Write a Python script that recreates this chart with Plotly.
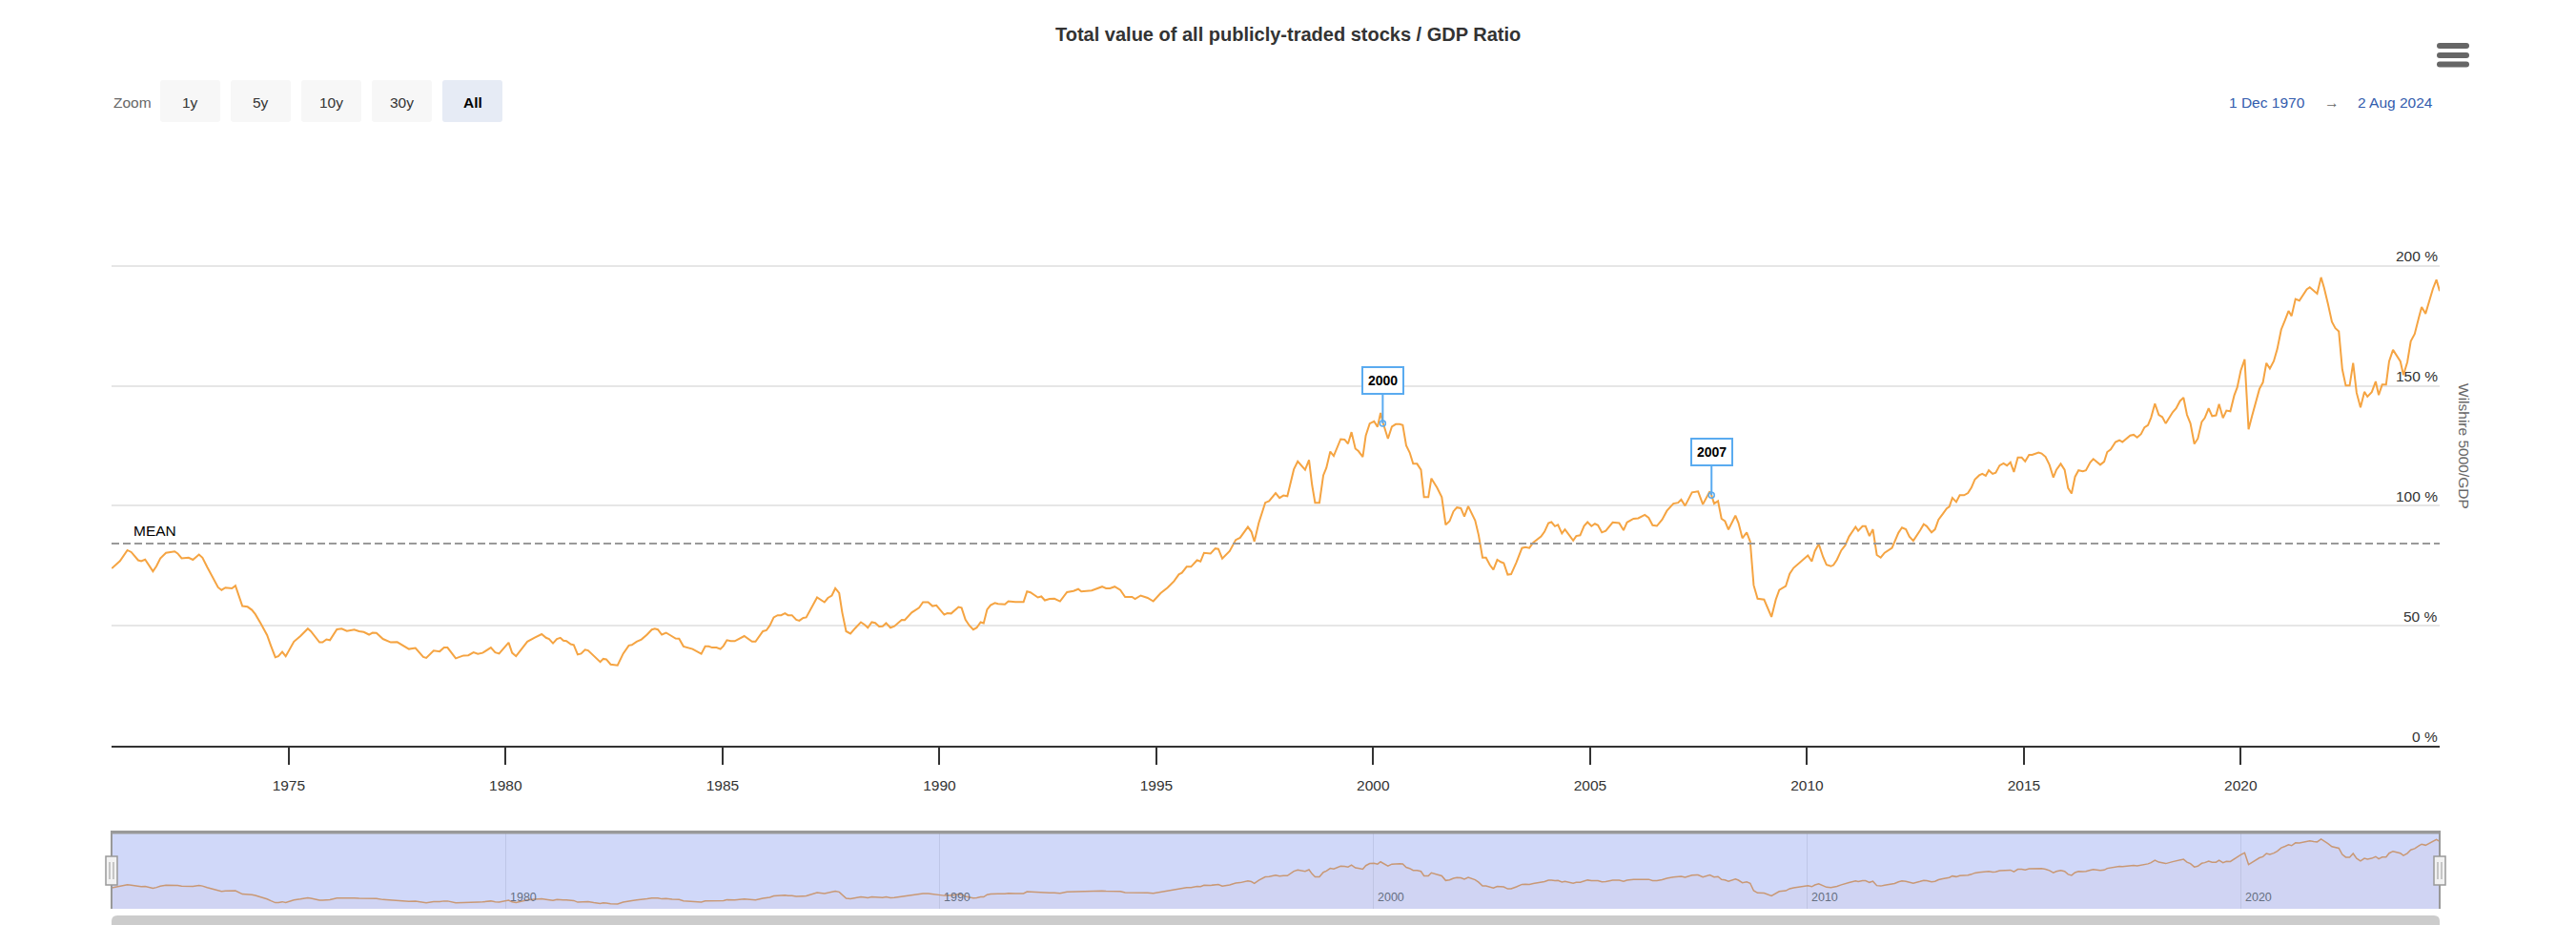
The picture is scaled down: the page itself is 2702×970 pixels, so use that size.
import datetime as dt
import plotly.graph_objects as go

# ---------------- data ----------------
years = [
    1970.92, 1971.11, 1971.28, 1971.37, 1971.53, 1971.60, 1971.69, 1971.87, 1971.95, 1972.04,
    1972.17, 1972.31, 1972.37, 1972.44, 1972.53, 1972.69, 1972.79, 1972.93, 1973.01, 1973.12,
    1973.26, 1973.37, 1973.45, 1973.54, 1973.69, 1973.77, 1973.93, 1974.05, 1974.15, 1974.23,
    1974.36, 1974.50, 1974.59, 1974.69, 1974.76, 1974.85, 1974.93, 1975.01, 1975.12, 1975.27,
    1975.44, 1975.51, 1975.60, 1975.71, 1975.78, 1975.87, 1975.95, 1976.11, 1976.22, 1976.34,
    1976.51, 1976.62, 1976.73, 1976.85, 1976.93, 1977.02, 1977.17, 1977.35, 1977.50, 1977.64,
    1977.77, 1977.92, 1978.10, 1978.17, 1978.34, 1978.48, 1978.58, 1978.66, 1978.85, 1979.03,
    1979.14, 1979.26, 1979.36, 1979.47, 1979.66, 1979.76, 1979.85,
    1980.07, 1980.15, 1980.24, 1980.34, 1980.50, 1980.67, 1980.83, 1980.93, 1981.00, 1981.09,
    1981.18, 1981.26, 1981.33, 1981.40, 1981.50, 1981.57, 1981.66, 1981.74, 1981.83, 1981.90,
    1982.03, 1982.18, 1982.25, 1982.32, 1982.42, 1982.58, 1982.71, 1982.84, 1982.91, 1983.02,
    1983.13, 1983.26, 1983.37, 1983.44, 1983.51, 1983.60, 1983.70, 1983.84, 1983.92, 1984.00,
    1984.10, 1984.31, 1984.51, 1984.60, 1984.68, 1984.76, 1984.86, 1984.95, 1985.02, 1985.10,
    1985.19, 1985.28, 1985.50, 1985.68, 1985.76, 1985.93, 1986.01, 1986.09, 1986.18, 1986.27,
    1986.35, 1986.44, 1986.51, 1986.60, 1986.70, 1986.77, 1986.86, 1986.93, 1987.07, 1987.18,
    1987.35, 1987.43, 1987.52, 1987.60, 1987.69, 1987.76, 1987.85, 1987.95, 1988.06, 1988.19,
    1988.28, 1988.35, 1988.44, 1988.52, 1988.61, 1988.69, 1988.77, 1988.87, 1988.96, 1989.13,
    1989.20, 1989.36, 1989.53, 1989.62, 1989.74, 1989.84, 1989.93,
    1990.11, 1990.18, 1990.27, 1990.44, 1990.51, 1990.60, 1990.69, 1990.78, 1990.86, 1990.95,
    1991.02, 1991.10, 1991.18, 1991.28, 1991.35, 1991.51, 1991.59, 1991.75, 1991.94, 1992.02,
    1992.10, 1992.27, 1992.35, 1992.43, 1992.54, 1992.65, 1992.78, 1992.94, 1993.09, 1993.20,
    1993.27, 1993.51, 1993.75, 1993.84, 1993.93, 1994.04, 1994.17, 1994.28, 1994.44, 1994.51,
    1994.64, 1994.80, 1994.93, 1995.10, 1995.26, 1995.41, 1995.52, 1995.59, 1995.70, 1995.80,
    1995.94, 1996.02, 1996.10, 1996.25, 1996.36, 1996.43, 1996.52, 1996.69, 1996.83, 1996.93,
    1997.11, 1997.19, 1997.26, 1997.36, 1997.51, 1997.60, 1997.75, 1997.84, 1997.93, 1998.02,
    1998.17, 1998.26, 1998.43, 1998.52, 1998.59, 1998.66, 1998.76, 1998.85, 1998.92, 1999.01,
    1999.09, 1999.25, 1999.34, 1999.42, 1999.50, 1999.59, 1999.66, 1999.76, 1999.83, 1999.92,
    2000.02, 2000.10, 2000.17, 2000.23, 2000.34, 2000.43, 2000.52, 2000.61, 2000.68, 2000.76,
    2000.84, 2000.92, 2001.01, 2001.10, 2001.17, 2001.27, 2001.34, 2001.47, 2001.58, 2001.67,
    2001.76, 2001.85, 2001.93, 2002.02, 2002.10, 2002.19, 2002.35, 2002.43, 2002.52, 2002.60,
    2002.69, 2002.77, 2002.86, 2002.94, 2003.01, 2003.10, 2003.18, 2003.30, 2003.43, 2003.51,
    2003.60, 2003.69, 2003.87, 2003.95, 2004.04, 2004.11, 2004.19, 2004.26, 2004.35, 2004.42,
    2004.61, 2004.68, 2004.77, 2004.86, 2004.94, 2005.03, 2005.11, 2005.18, 2005.27, 2005.36,
    2005.52, 2005.67, 2005.77, 2005.85, 2006.00, 2006.11, 2006.26, 2006.35, 2006.44, 2006.54,
    2006.66, 2006.77, 2006.92, 2007.03, 2007.10, 2007.19, 2007.35, 2007.49, 2007.60, 2007.76,
    2007.80, 2007.86, 2007.95, 2008.03, 2008.11, 2008.19, 2008.35, 2008.42, 2008.51, 2008.61,
    2008.69, 2008.77, 2008.86, 2009.01, 2009.18, 2009.28, 2009.36, 2009.51, 2009.60, 2009.69,
    2009.85, 2009.94,
    2010.02, 2010.11, 2010.18, 2010.27, 2010.37, 2010.45, 2010.55, 2010.61, 2010.69, 2010.79,
    2010.88, 2010.97, 2011.12, 2011.18, 2011.28, 2011.35, 2011.44, 2011.52, 2011.61, 2011.70,
    2011.79, 2011.96, 2012.02, 2012.11, 2012.19, 2012.28, 2012.36, 2012.45, 2012.61, 2012.69,
    2012.76, 2012.87, 2012.95, 2013.03, 2013.13, 2013.22, 2013.28, 2013.35, 2013.44, 2013.52,
    2013.62, 2013.71, 2013.79, 2013.87, 2013.97, 2014.04, 2014.12, 2014.19, 2014.28, 2014.35,
    2014.44, 2014.53, 2014.61, 2014.69, 2014.77, 2014.86, 2014.95, 2015.03, 2015.12, 2015.19,
    2015.34, 2015.41, 2015.50, 2015.59, 2015.68, 2015.75, 2015.85, 2015.94, 2016.02, 2016.10,
    2016.18, 2016.26, 2016.36, 2016.43, 2016.53, 2016.60, 2016.76, 2016.85, 2016.92, 2017.00,
    2017.11, 2017.20, 2017.27, 2017.36, 2017.45, 2017.53, 2017.61, 2017.70, 2017.78, 2017.86,
    2017.93, 2018.02, 2018.11, 2018.19, 2018.27, 2018.43, 2018.51, 2018.60, 2018.68, 2018.76,
    2018.84, 2018.93, 2019.01, 2019.10, 2019.17, 2019.26, 2019.34, 2019.43, 2019.50, 2019.59,
    2019.67, 2019.76, 2019.85, 2019.92,
    2020.00, 2020.09, 2020.18, 2020.26, 2020.34, 2020.43, 2020.51, 2020.59, 2020.67, 2020.76,
    2020.84, 2020.93, 2021.02, 2021.10, 2021.17, 2021.26, 2021.35, 2021.43, 2021.52, 2021.59,
    2021.68, 2021.76, 2021.85, 2021.92, 2022.01, 2022.10, 2022.18, 2022.26, 2022.34, 2022.42,
    2022.51, 2022.59, 2022.67, 2022.76, 2022.85, 2022.92, 2023.02, 2023.11, 2023.18, 2023.26,
    2023.35, 2023.42, 2023.51, 2023.59, 2023.68, 2023.75, 2023.84, 2023.92, 2024.01, 2024.10,
    2024.17, 2024.26, 2024.35, 2024.43, 2024.51, 2024.585,
]

ratio = [
    73.9, 77.0, 81.5, 80.7, 77.3, 76.9, 77.6, 72.7, 74.8, 78.1,
    80.4, 80.7, 81.0, 80.1, 78.1, 78.4, 77.5, 79.7, 78.4, 74.4,
    69.6, 66.0, 64.9, 65.9, 65.6, 66.7, 58.2, 57.9, 56.6, 54.8,
    50.8, 46.1, 41.6, 36.9, 37.3, 39.1, 37.3, 39.7, 43.4, 45.7,
    48.8, 47.7, 45.4, 43.1, 43.1, 44.3, 44.0, 48.5, 48.8, 47.8,
    48.4, 47.7, 47.4, 46.3, 47.1, 47.0, 44.5, 43.1, 43.2, 41.8,
    40.3, 40.7, 37.0, 36.6, 39.6, 39.3, 40.9, 40.9, 36.4, 37.6,
    37.7, 38.9, 38.3, 38.7, 40.9, 38.9, 38.4,
    43.0, 38.7, 37.3, 39.7, 43.4, 45.1, 46.5, 45.0, 44.5, 42.7,
    44.5, 45.0, 43.8, 43.6, 42.3, 42.0, 38.0, 38.4, 40.0, 39.7,
    37.3, 34.9, 36.2, 36.0, 33.9, 33.5, 38.4, 41.8, 42.0, 43.4,
    44.3, 46.3, 48.4, 48.8, 48.4, 46.3, 47.1, 45.4, 44.7, 44.6,
    41.4, 40.3, 38.3, 41.4, 41.4, 40.9, 40.9, 40.3, 41.6, 44.0,
    43.6, 43.6, 45.7, 43.4, 43.4, 47.7, 48.1, 50.1, 53.5, 54.4,
    54.4, 55.2, 54.4, 54.4, 52.5, 52.1, 53.3, 53.5, 58.5, 61.8,
    59.8, 61.6, 62.6, 65.6, 63.6, 55.5, 47.7, 46.7, 49.0, 51.5,
    50.4, 49.2, 51.5, 51.2, 49.7, 49.8, 51.1, 49.2, 49.8, 52.5,
    52.4, 55.5, 57.5, 59.8, 59.8, 58.2, 58.5,
    54.6, 55.2, 55.1, 57.8, 57.5, 52.5, 50.1, 48.4, 49.2, 51.5,
    51.1, 56.8, 58.6, 59.5, 59.1, 58.9, 60.2, 59.9, 59.9, 64.3,
    63.9, 61.8, 62.2, 60.6, 61.2, 61.3, 60.2, 64.0, 64.5, 65.3,
    64.3, 64.7, 66.3, 65.6, 65.6, 66.3, 64.9, 62.0, 62.0, 61.2,
    62.6, 61.6, 60.2, 63.6, 65.9, 68.6, 71.4, 72.1, 74.6, 74.6,
    77.3, 76.8, 80.4, 80.1, 82.2, 82.0, 78.0, 81.1, 85.8, 86.7,
    91.2, 89.2, 85.1, 92.8, 101.3, 102.0, 105.3, 103.3, 104.3, 104.0,
    115.2, 118.5, 115.0, 119.1, 108.7, 101.3, 101.3, 112.7, 115.8, 122.6,
    120.8, 127.8, 127.6, 125.9, 130.7, 123.8, 122.8, 120.4, 129.3, 134.3,
    135.2, 132.9, 138.7, 134.3, 128.0, 133.0, 134.0, 134.0, 133.6, 125.1,
    122.2, 117.5, 117.5, 115.0, 103.6, 103.6, 111.4, 107.6, 103.6, 92.1,
    93.6, 97.7, 99.3, 99.0, 95.5, 99.8, 93.9, 87.8, 78.4, 78.4,
    75.3, 73.4, 77.5, 76.6, 76.1, 71.3, 71.5, 76.4, 82.4, 82.8,
    82.4, 84.7, 87.2, 89.2, 92.8, 93.2, 91.5, 92.1, 88.5, 90.2,
    85.5, 87.4, 87.7, 91.6, 93.2, 91.5, 92.5, 91.9, 88.9, 89.6,
    93.1, 92.8, 89.8, 93.1, 94.6, 94.8, 96.2, 95.0, 91.9, 91.6,
    94.2, 97.9, 100.9, 101.3, 102.6, 100.0, 105.6, 106.0, 100.6, 106.0,
    104.4, 100.9, 102.0, 94.6, 93.6, 90.1, 95.9, 92.9, 86.5, 88.9,
    85.1, 66.9, 61.3, 60.9, 53.7, 60.9, 64.9, 66.5, 71.7, 74.1,
    76.6, 78.4,
    79.3, 76.8, 81.1, 84.1, 78.7, 75.4, 74.8, 75.3, 77.5, 81.4,
    83.5, 87.2, 91.2, 89.6, 91.5, 91.5, 87.4, 90.2, 79.5, 78.4,
    80.4, 82.4, 84.7, 88.8, 90.9, 90.2, 87.2, 85.4, 89.8, 92.3,
    91.5, 88.9, 90.2, 94.2, 96.6, 98.9, 99.6, 103.3, 101.6, 104.4,
    104.4, 105.3, 107.6, 111.0, 112.7, 113.3, 112.5, 114.8, 113.3, 113.8,
    116.8, 117.7, 116.8, 118.1, 114.1, 120.1, 120.1, 118.5, 121.2, 121.2,
    122.2, 121.8, 120.4, 117.1, 111.8, 115.0, 117.5, 115.0, 107.4, 105.1,
    112.1, 114.8, 114.4, 114.8, 118.1, 119.5, 117.1, 118.4, 122.4, 123.5,
    126.6, 127.3, 126.6, 127.8, 129.3, 129.6, 128.5, 129.9, 132.7, 133.6,
    136.7, 142.6, 137.9, 137.0, 134.3, 139.0, 140.6, 143.7, 145.1, 137.9,
    134.3, 125.8, 128.0, 135.0, 136.6, 140.6, 137.4, 137.7, 142.4, 136.6,
    139.7, 139.4, 146.0, 149.4,
    156.3, 161.0, 131.9, 137.4, 143.1, 148.7, 151.4, 159.5, 157.2, 160.3,
    165.3, 173.4, 177.4, 181.2, 179.1, 186.2, 185.5, 187.5, 190.2, 191.1,
    189.5, 188.4, 195.2, 190.9, 184.1, 176.7, 174.0, 172.7, 156.9, 150.1,
    150.1, 159.5, 147.1, 141.0, 147.5, 145.5, 147.4, 151.8, 146.2, 150.5,
    150.5, 160.2, 165.0, 162.6, 160.2, 154.5, 159.9, 168.6, 171.6, 178.1,
    182.8, 180.1, 185.5, 190.5, 194.2, 189.5,
]

MEAN = 84.3
flag_years = [2000.22, 2007.80]
flag_values = [134.3, 104.4]
flag_titles = ["2000", "2007"]

y_ticks = [0, 50, 100, 150, 200, 250]
y_labels = ["0 %", "50 %", "100 %", "150 %", "200 %", None]
zoom_buttons = ["1y", "5y", "10y", "30y", "All"]
nav_label_years = [1980, 1990, 2000, 2010, 2020]
range_from, range_to = "1 Dec 1970", "2 Aug 2024"
START, END = "1970-12-01", "2024-08-02"


def dec_to_dt(y):
    yr = int(y)
    a = dt.datetime(yr, 1, 1)
    b = dt.datetime(yr + 1, 1, 1)
    return a + (b - a) * (y - yr)


dates = [dec_to_dt(y) for y in years]
flag_dates = [dec_to_dt(y) for y in flag_years]

# ---------------- layout helpers ----------------
W, H = 2702, 970
def PX(x): return x / W
def PY(y): return 1 - y / H

LEFT, RIGHT = 117, 2559
TOP, BOTTOM = 153, 782
NAV_TOP, NAV_BOT = 872, 953
LINE = "#f5a442"
FLAG = "#5aabf0"
FONT = "Liberation Sans, Arial, Helvetica, sans-serif"


def rrect(x0, y0, x1, y1, r):
    rx, ry = r / W, r / H
    X0, X1 = PX(x0), PX(x1)
    Y0, Y1 = PY(y0), PY(y1)
    return (f"M{X0+rx},{Y0} L{X1-rx},{Y0} Q{X1},{Y0} {X1},{Y0-ry} "
            f"L{X1},{Y1+ry} Q{X1},{Y1} {X1-rx},{Y1} L{X0+rx},{Y1} "
            f"Q{X0},{Y1} {X0},{Y1+ry} L{X0},{Y0-ry} Q{X0},{Y0} {X0+rx},{Y0} Z")


fig = go.Figure()
fig.add_trace(go.Scatter(
    x=dates, y=ratio, mode="lines", name="Wilshire 5000/GDP",
    line=dict(color=LINE, width=2), xaxis="x", yaxis="y", showlegend=False,
    hovertemplate="%{x|%d %b %Y}<br>%{y:.1f} %<extra></extra>"))
fig.add_trace(go.Scatter(
    x=flag_dates, y=flag_values, mode="markers", showlegend=False, hoverinfo="skip",
    marker=dict(symbol="circle-open", size=6, color=FLAG, line=dict(width=1.5, color=FLAG)),
    xaxis="x", yaxis="y"))
fig.add_trace(go.Scatter(
    x=dates, y=ratio, mode="lines", showlegend=False, hoverinfo="skip",
    line=dict(color=LINE, width=1.5), fill="tozeroy", fillcolor="rgba(247,163,92,0.05)",
    xaxis="x2", yaxis="y2"))

shapes = []
annotations = []

# mean line
shapes.append(dict(type="line", xref="x domain", yref="y", x0=0, x1=1, y0=MEAN, y1=MEAN,
                   line=dict(color="#999999", width=2, dash="8px,4px")))

# navigator mask + outline
shapes.append(dict(type="rect", xref="paper", yref="paper", x0=PX(LEFT), x1=PX(RIGHT),
                   y0=PY(NAV_BOT), y1=PY(NAV_TOP), fillcolor="rgba(100,125,235,0.3)",
                   line=dict(width=0), layer="above"))
shapes.append(dict(type="path", xref="paper", yref="paper", layer="above",
                   path=f"M{PX(LEFT)},{PY(NAV_BOT)} L{PX(LEFT)},{PY(NAV_TOP)} L{PX(RIGHT)},{PY(NAV_TOP)} L{PX(RIGHT)},{PY(NAV_BOT)}",
                   line=dict(color="#999999", width=2)))
shapes.append(dict(type="line", xref="paper", yref="paper", layer="above",
                   x0=PX(LEFT), x1=PX(RIGHT), y0=PY(NAV_TOP + 1), y1=PY(NAV_TOP + 1),
                   line=dict(color="#999999", width=3)))
# handles
for cx in (LEFT, RIGHT):
    shapes.append(dict(type="rect", xref="paper", yref="paper", layer="above",
                       x0=PX(cx - 6), x1=PX(cx + 6), y0=PY(928), y1=PY(898),
                       fillcolor="#f2f2f2", line=dict(color="#999999", width=1.5)))
    for dx in (-2, 2):
        shapes.append(dict(type="line", xref="paper", yref="paper", layer="above",
                           x0=PX(cx + dx), x1=PX(cx + dx), y0=PY(904), y1=PY(922),
                           line=dict(color="#999999", width=1)))
# scrollbar
shapes.append(dict(type="path", xref="paper", yref="paper", layer="above",
                   path=rrect(LEFT, 960, RIGHT, 985, 6), fillcolor="#cccccc",
                   line=dict(width=0)))

# zoom buttons
btn_x = [168, 242, 316, 390, 464]
for i, lab in enumerate(zoom_buttons):
    x0 = btn_x[i]
    sel = lab == "All"
    shapes.append(dict(type="path", xref="paper", yref="paper",
                       path=rrect(x0, 84, x0 + 63, 128, 3),
                       fillcolor="#e6ebf5" if sel else "#f7f7f7", line=dict(width=0)))
    annotations.append(dict(xref="paper", yref="paper", x=PX(x0 + 31.5), y=PY(107),
                            text=f"<b>{lab}</b>" if sel else lab, showarrow=False,
                            font=dict(size=15.5, color="#000000" if sel else "#333333"),
                            xanchor="center", yanchor="middle"))
annotations.append(dict(xref="paper", yref="paper", x=PX(117), y=PY(107), text="Zoom",
                        showarrow=False, font=dict(size=15.5, color="#666666"),
                        xanchor="left", yanchor="middle"))

# date range inputs
annotations.append(dict(xref="paper", yref="paper", x=PX(2420), y=PY(107), text=range_from,
                        showarrow=False, font=dict(size=15.5, color="#335cad"),
                        xanchor="right", yanchor="middle"))
annotations.append(dict(xref="paper", yref="paper", x=PX(2446), y=PY(107), text="→",
                        showarrow=False, font=dict(size=15.5, color="#666666"),
                        xanchor="center", yanchor="middle"))
annotations.append(dict(xref="paper", yref="paper", x=PX(2471), y=PY(107), text=range_to,
                        showarrow=False, font=dict(size=15.5, color="#335cad"),
                        xanchor="left", yanchor="middle"))

# hamburger
for yc in (48, 58, 67.5):
    shapes.append(dict(type="path", xref="paper", yref="paper",
                       path=rrect(2556, yc - 3, 2590, yc + 3, 3), fillcolor="#666666",
                       line=dict(width=0)))

# title
annotations.append(dict(xref="paper", yref="paper", x=PX(1351), y=PY(36),
                        text="<b>Total value of all publicly-traded stocks / GDP Ratio</b>",
                        showarrow=False, font=dict(size=20, color="#333333"),
                        xanchor="center", yanchor="middle"))

# y tick labels (inside, right, above gridline)
for v, lab in zip(y_ticks, y_labels):
    if lab is None:
        continue
    annotations.append(dict(xref="paper", yref="y", x=PX(RIGHT), y=v, text=lab,
                            showarrow=False, font=dict(size=15.5, color="#333333"),
                            xanchor="right", yanchor="middle", yshift=10))
# y title
annotations.append(dict(xref="paper", yref="paper", x=PX(2585), y=PY(468),
                        text="Wilshire 5000/GDP", textangle=90, showarrow=False,
                        font=dict(size=15.5, color="#666666"),
                        xanchor="center", yanchor="middle"))
# mean label
annotations.append(dict(xref="paper", yref="y", x=PX(138), y=MEAN, text="MEAN",
                        showarrow=False, font=dict(size=15.5, color="#000000"),
                        xanchor="left", yanchor="middle", yshift=13))
# flags
for d, v, t in zip(flag_dates, flag_values, flag_titles):
    annotations.append(dict(xref="x", yref="y", x=d, y=v, text=f"<b>{t}</b>",
                            showarrow=True, arrowhead=0, arrowwidth=2, arrowcolor=FLAG,
                            ax=0, ay=-45, bgcolor="#ffffff", bordercolor=FLAG,
                            borderwidth=2, borderpad=5,
                            font=dict(size=14, color="#000000")))
# navigator labels
for yv in nav_label_years:
    annotations.append(dict(xref="x2", yref="paper", x=f"{yv}-01-01", y=PY(941),
                            text=str(yv), showarrow=False, xshift=3,
                            font=dict(size=12.5, color="rgb(102,111,130)"),
                            xanchor="left", yanchor="middle"))

fig.update_layout(
    width=W, height=H, margin=dict(l=0, r=0, t=0, b=0),
    paper_bgcolor="#ffffff", plot_bgcolor="#ffffff",
    font=dict(family=FONT), showlegend=False, hovermode="x",
    xaxis=dict(domain=[PX(LEFT), PX(RIGHT)], range=[START, END], type="date",
               anchor="y", showgrid=False, zeroline=False,
               showline=True, linecolor="#333333", linewidth=2,
               ticks="outside", ticklen=18, tickwidth=1.5, tickcolor="#333333",
               tick0="1975-01-01", dtick="M60", tickformat="%Y",
               tickfont=dict(size=15.5, color="#333333"), ticklabelstandoff=8),
    yaxis=dict(domain=[PY(BOTTOM), PY(TOP)], range=[0, 250], anchor="x",
               tickvals=y_ticks, showticklabels=False, ticks="",
               gridcolor="#e6e6e6", gridwidth=1.5, zeroline=False, showline=False),
    xaxis2=dict(domain=[PX(LEFT), PX(RIGHT)], range=[START, END], type="date",
                anchor="y2", showgrid=True, gridcolor="#e6e6e6", gridwidth=1,
                tick0="1980-01-01", dtick="M120", showticklabels=False, ticks="",
                showline=False, zeroline=False),
    yaxis2=dict(domain=[PY(NAV_BOT), PY(NAV_TOP)], range=[21.6, 214.2], anchor="x2",
                visible=False, showgrid=False),
    shapes=shapes, annotations=annotations,
)

fig.write_html(
    "out.html",
    config={"displayModeBar": False},
    post_script="document.body.style.margin='0px';document.body.style.overflow='hidden';",
)
